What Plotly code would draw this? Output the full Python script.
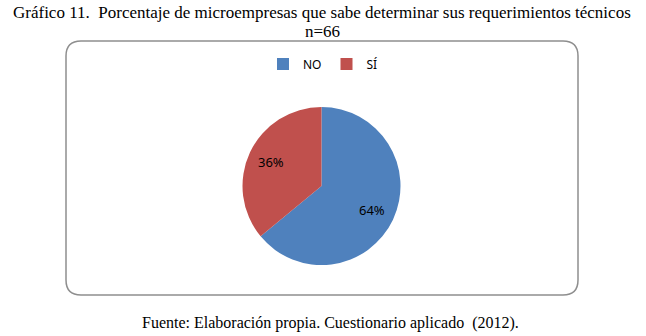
import math
import plotly.graph_objects as go

labels = ["NO", "SÍ"]
values = [64, 36]
colors = ["#4F81BD", "#C0504D"]
title_line1 = "Gráfico 11.  Porcentaje de microempresas que sabe determinar sus requerimientos técnicos"
title_line2 = "n=66"
source_text = "Fuente: Elaboración propia. Cuestionario aplicado  (2012)."

W, H = 646, 336

def px(x):
    return x / W

def py(y):
    return 1 - y / H

cx, cy, r = 321.5, 186, 79

fig = go.Figure()
fig.add_trace(go.Pie(
    labels=labels,
    values=values,
    marker=dict(colors=colors, line=dict(width=0)),
    sort=False,
    direction="clockwise",
    rotation=0,
    textinfo="none",
    domain=dict(x=[px(cx - r), px(cx + r)], y=[py(cy + r), py(cy - r)]),
    hoverinfo="label+percent",
))

# data labels placed on each slice's mid-angle (computed from values)
total = sum(values)
cum = 0
for v in values:
    mid = (cum + v / 2) / total * 2 * math.pi  # clockwise from 12 o'clock
    cum += v
    lx = cx + 0.7 * r * math.sin(mid)
    ly = cy - 0.7 * r * math.cos(mid)
    fig.add_annotation(text=f"{round(v / total * 100)}%", x=px(lx), y=py(ly),
                       xref="paper", yref="paper", showarrow=False,
                       font=dict(family="Noto Sans, Arial", size=13, color="#000000"))

# rounded frame
x0, x1, y0, y1, rr = 66, 578, 41, 295, 15
rx, ry = rr / W, rr / H
path = (
    f"M {px(x0)+rx},{py(y0)} L {px(x1)-rx},{py(y0)} Q {px(x1)},{py(y0)} {px(x1)},{py(y0)-ry} "
    f"L {px(x1)},{py(y1)+ry} Q {px(x1)},{py(y1)} {px(x1)-rx},{py(y1)} "
    f"L {px(x0)+rx},{py(y1)} Q {px(x0)},{py(y1)} {px(x0)},{py(y1)+ry} "
    f"L {px(x0)},{py(y0)-ry} Q {px(x0)},{py(y0)} {px(x0)+rx},{py(y0)} Z"
)
fig.add_shape(type="path", path=path, xref="paper", yref="paper",
              line=dict(color="#8E8E8E", width=1.5), layer="below")

serif = "Liberation Serif, Times New Roman, serif"
fig.add_annotation(text=title_line1, x=px(322), y=py(13), xref="paper", yref="paper",
                   showarrow=False, font=dict(family=serif, size=17, color="#000000"),
                   xanchor="center", yanchor="middle")
fig.add_annotation(text=title_line2, x=px(322), y=py(31), xref="paper", yref="paper",
                   showarrow=False, font=dict(family=serif, size=17, color="#000000"),
                   xanchor="center", yanchor="middle")
fig.add_annotation(text=source_text, x=px(330), y=py(323), xref="paper", yref="paper",
                   showarrow=False, font=dict(family=serif, size=16, color="#000000"),
                   xanchor="center", yanchor="middle")

fig.update_layout(
    width=W, height=H,
    margin=dict(l=0, r=0, t=0, b=0),
    paper_bgcolor="#FFFFFF",
    plot_bgcolor="#FFFFFF",
    showlegend=True,
    legend=dict(orientation="h", x=px(323), xanchor="center", y=py(64), yanchor="middle",
                font=dict(family="Noto Sans, Arial", size=12, color="#000000"),
                itemclick=False, bgcolor="rgba(0,0,0,0)", traceorder="normal"),
)

fig.write_html("out.html", config={"displayModeBar": False},
               post_script="document.body.style.margin='0px';")
